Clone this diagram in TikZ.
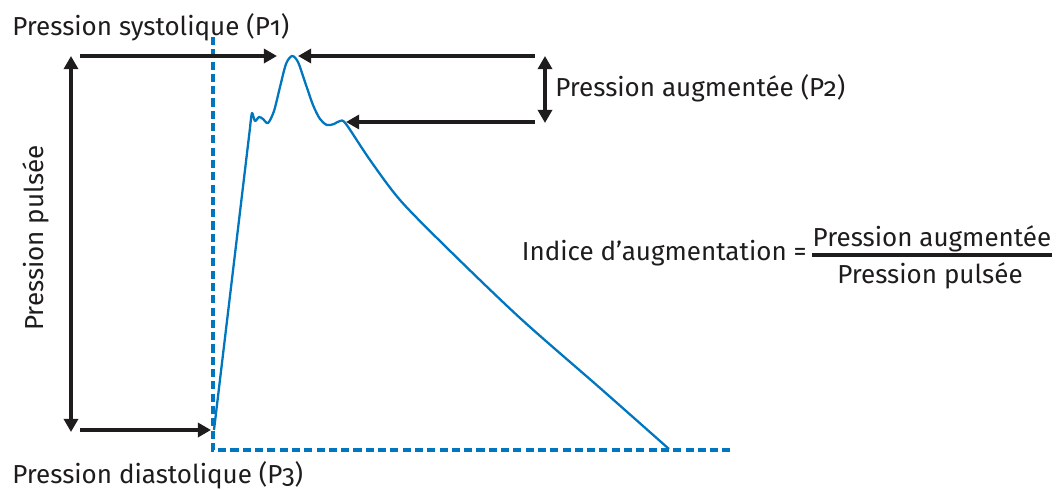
\documentclass[tikz,border=0pt]{standalone}
\usepackage{fontspec}
\setmainfont{Fira Sans}[Numbers=OldStyle]
\definecolor{waveblue}{RGB}{0,118,190}
\definecolor{dimblack}{RGB}{30,28,29}
\usetikzlibrary{arrows.meta}

\begin{document}
\begin{tikzpicture}[x=0.02cm,y=-0.02cm,font=\fontsize{14.8}{17}\selectfont,
  dimarrow/.style={dimblack,line width=2pt,-{Triangle[length=7.5pt,width=8pt]}},
  dimboth/.style={dimarrow,{Triangle[length=7.5pt,width=8pt]}-{Triangle[length=7.5pt,width=8pt]}},
  guide/.style={waveblue,line width=2.6pt,dash pattern=on 4.6pt off 2.4pt},
  wave/.style={waveblue,line width=1.3pt,line join=round},
  lbl/.style={inner sep=0pt,text=dimblack}]
  \useasboundingbox (0,0) rectangle (1059,490);
  % labels
  \node[lbl,anchor=base west] (sys) at (12,35) {Pression systolique (P1)};
  \node[lbl,anchor=base west] (dia) at (12,483) {Pression diastolique (P3)};
  \node[lbl,anchor=west] (aug) at (555,88) {Pression augmentée (P2)};
  \node[lbl,rotate=90] (pul) at (36,238) {Pression pulsée};
  \node[lbl,anchor=base east] (ind) at (807,260) {Indice d’augmentation =};
  \node[lbl,anchor=base] (num) at (932,246) {Pression augmentée};
  \node[lbl,anchor=base] (den) at (930,283) {Pression pulsée};
  \draw[dimblack,line width=2pt] (num.west |- 0,255) -- (num.east |- 0,255);
  % key points
  \coordinate (p1in) at (277,56);
  \coordinate (p1out) at (298,56);
  \coordinate (p2in) at (346,122);
  \coordinate (p3in) at (211,430);
  \coordinate (topl) at (80,56);
  \coordinate (topr) at (535,56);
  \coordinate (midr) at (535,122);
  \coordinate (botl) at (80,430);
  % dashed axes
  \draw[guide] (213,37) -- (213,450) -- (732,450);
  % pressure wave
  \draw[wave] (214,430) -- plot[smooth,tension=0.5] coordinates {(250,128) (252,113) (255,121)
    (259,117) (263,119) (268,123) (274,111) (280,87) (286,64) (292,56) (298,62)
    (305,82) (313,105) (320,119) (327,125) (334,124) (340,121) (346,124)
    (370,160) (400,200) (445,246) (520,318) (600,388) (669,449)};
  % arrows
  \draw[dimarrow] (topl) -- (p1in);
  \draw[dimarrow] (topr) -- (p1out);
  \draw[dimarrow] (midr) -- (p2in);
  \draw[dimarrow] (botl) -- (p3in);
  \draw[dimboth] (71,56) -- (71,432);
  \draw[dimboth] (545,56) -- (545,123);
\end{tikzpicture}
\end{document}
